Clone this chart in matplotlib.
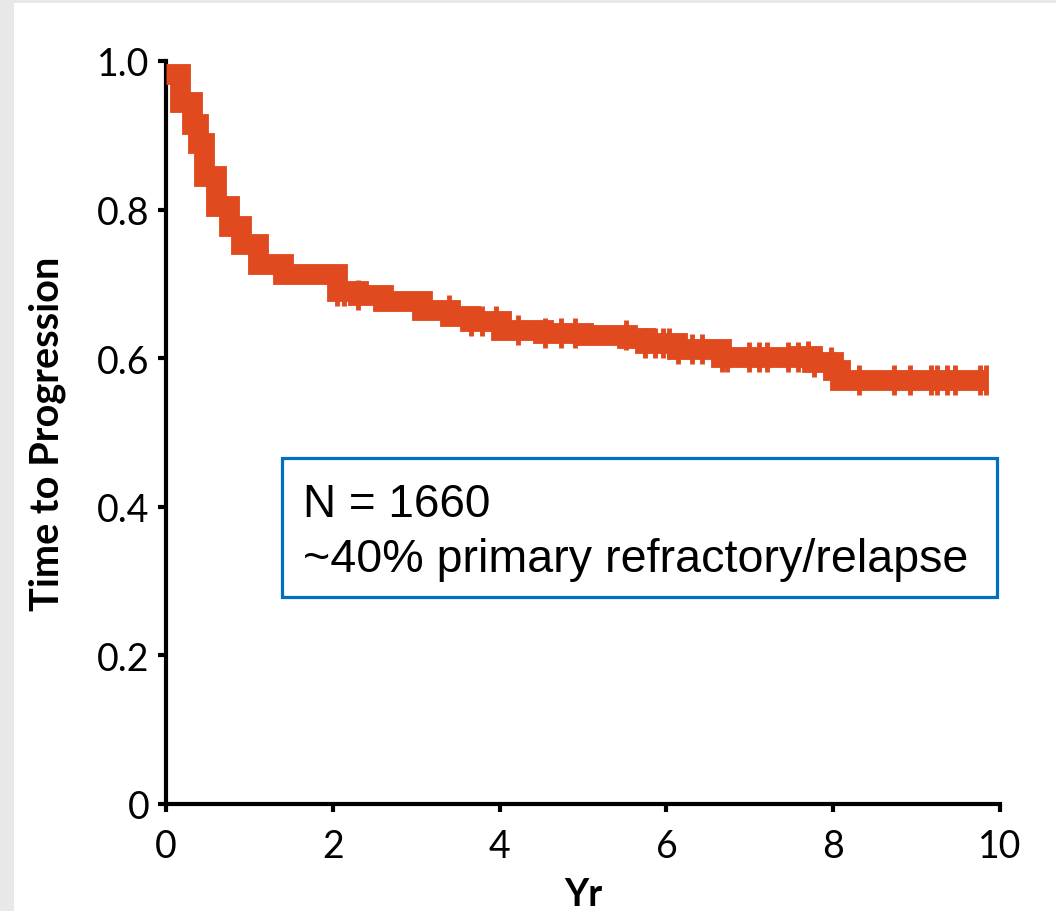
import matplotlib
matplotlib.use("Agg")
import matplotlib.pyplot as plt
from matplotlib.patches import Rectangle
import numpy as np

# Kaplan-Meier step data (time in years, survival proportion)
step_times = [0.0, 0.17, 0.31, 0.38, 0.46, 0.60, 0.75, 0.90, 1.10, 1.40, 2.05, 2.30,
              2.60, 3.07, 3.40, 3.65, 4.02, 4.52, 5.00, 5.53, 5.74, 6.13, 6.66, 7.60,
              7.75, 8.00, 8.08]
step_surv = [0.982, 0.945, 0.915, 0.890, 0.845, 0.805, 0.778, 0.754, 0.727, 0.713, 0.690, 0.685,
             0.677, 0.665, 0.657, 0.650, 0.638, 0.634, 0.631, 0.627, 0.620, 0.613, 0.601, 0.603,
             0.595, 0.584, 0.571]
end_time = 9.84

# censor mark times
censor_times = [0.31, 2.05, 2.13, 2.30, 3.39, 3.66, 3.79, 3.96, 4.22, 4.54, 4.74, 4.90,
                5.52, 5.74, 5.86, 5.96, 6.03, 6.14, 6.31, 6.43, 6.67, 6.73, 6.99, 7.11,
                7.21, 7.46, 7.58, 7.70, 7.77, 7.97, 8.05, 8.31, 8.73, 8.92, 9.17, 9.24,
                9.36, 9.46, 9.76, 9.83]

x_ticks = [0, 2, 4, 6, 8, 10]
y_ticks = [0, 0.2, 0.4, 0.6, 0.8, 1.0]
y_ticklabels = ["0", "0.2", "0.4", "0.6", "0.8", "1.0"]

annot_lines = ["N = 1660", "~40% primary refractory/relapse"]

color = "#E04A1E"

fig = plt.figure(figsize=(10.56, 9.12), dpi=100, facecolor="#e8e8e8")
bg = Rectangle((14 / 1056, 0), 1, (912 - 4) / 912, transform=fig.transFigure,
               facecolor="white", edgecolor="none", zorder=-10)
fig.add_artist(bg)

ax = fig.add_axes([166 / 1056, (912 - 805) / 912, (1000 - 166) / 1056, (805 - 62) / 912])
ax.set_facecolor("none")

xs = list(step_times) + [end_time]
ys = list(step_surv) + [step_surv[-1]]
ax.step(xs, ys, where="post", color=color, lw=15, solid_joinstyle="miter",
        solid_capstyle="butt", clip_on=False, zorder=3)

def surv_at(t):
    idx = np.searchsorted(step_times, t, side="right") - 1
    return step_surv[max(idx, 0)]

cy = [surv_at(t) for t in censor_times]
ax.plot(censor_times, cy, ls="none", marker="|", ms=22, mew=3.5, color=color,
        clip_on=False, zorder=4)

ax.set_xlim(0, 10)
ax.set_ylim(0, 1.0)
for s in ["top", "right"]:
    ax.spines[s].set_visible(False)
for s in ["left", "bottom"]:
    ax.spines[s].set_linewidth(3)
    ax.spines[s].set_color("black")

ax.set_xticks(x_ticks)
ax.set_xticklabels([str(v) for v in x_ticks])
ax.set_yticks(y_ticks)
ax.set_yticklabels(y_ticklabels)
ax.tick_params(axis="both", direction="out", length=6, width=3, labelsize=27)
ax.tick_params(axis="x", pad=11)
ax.tick_params(axis="y", pad=6)
for lab in ax.get_xticklabels() + ax.get_yticklabels():
    lab.set_fontfamily("Lato")

ax.set_xlabel("Yr", fontsize=27, fontweight="bold", fontfamily="Lato", labelpad=10)
ax.set_ylabel("Time to Progression", fontsize=28.5, fontweight="bold", fontfamily="Lato",
              labelpad=22)

# annotation box
ax.add_patch(Rectangle((1.39, 0.279), 9.96 - 1.39, 0.466 - 0.279, facecolor="white",
                       edgecolor="#0070C0", lw=2.3, zorder=5, clip_on=False))
ax.text(1.64, 0.388, annot_lines[0], fontsize=33, fontfamily="Liberation Sans",
        va="baseline", ha="left", zorder=6)
ax.text(1.64, 0.314, annot_lines[1], fontsize=33.6, fontfamily="Liberation Sans",
        va="baseline", ha="left", zorder=6)

fig.savefig("out.png", dpi=100, facecolor=fig.get_facecolor())
